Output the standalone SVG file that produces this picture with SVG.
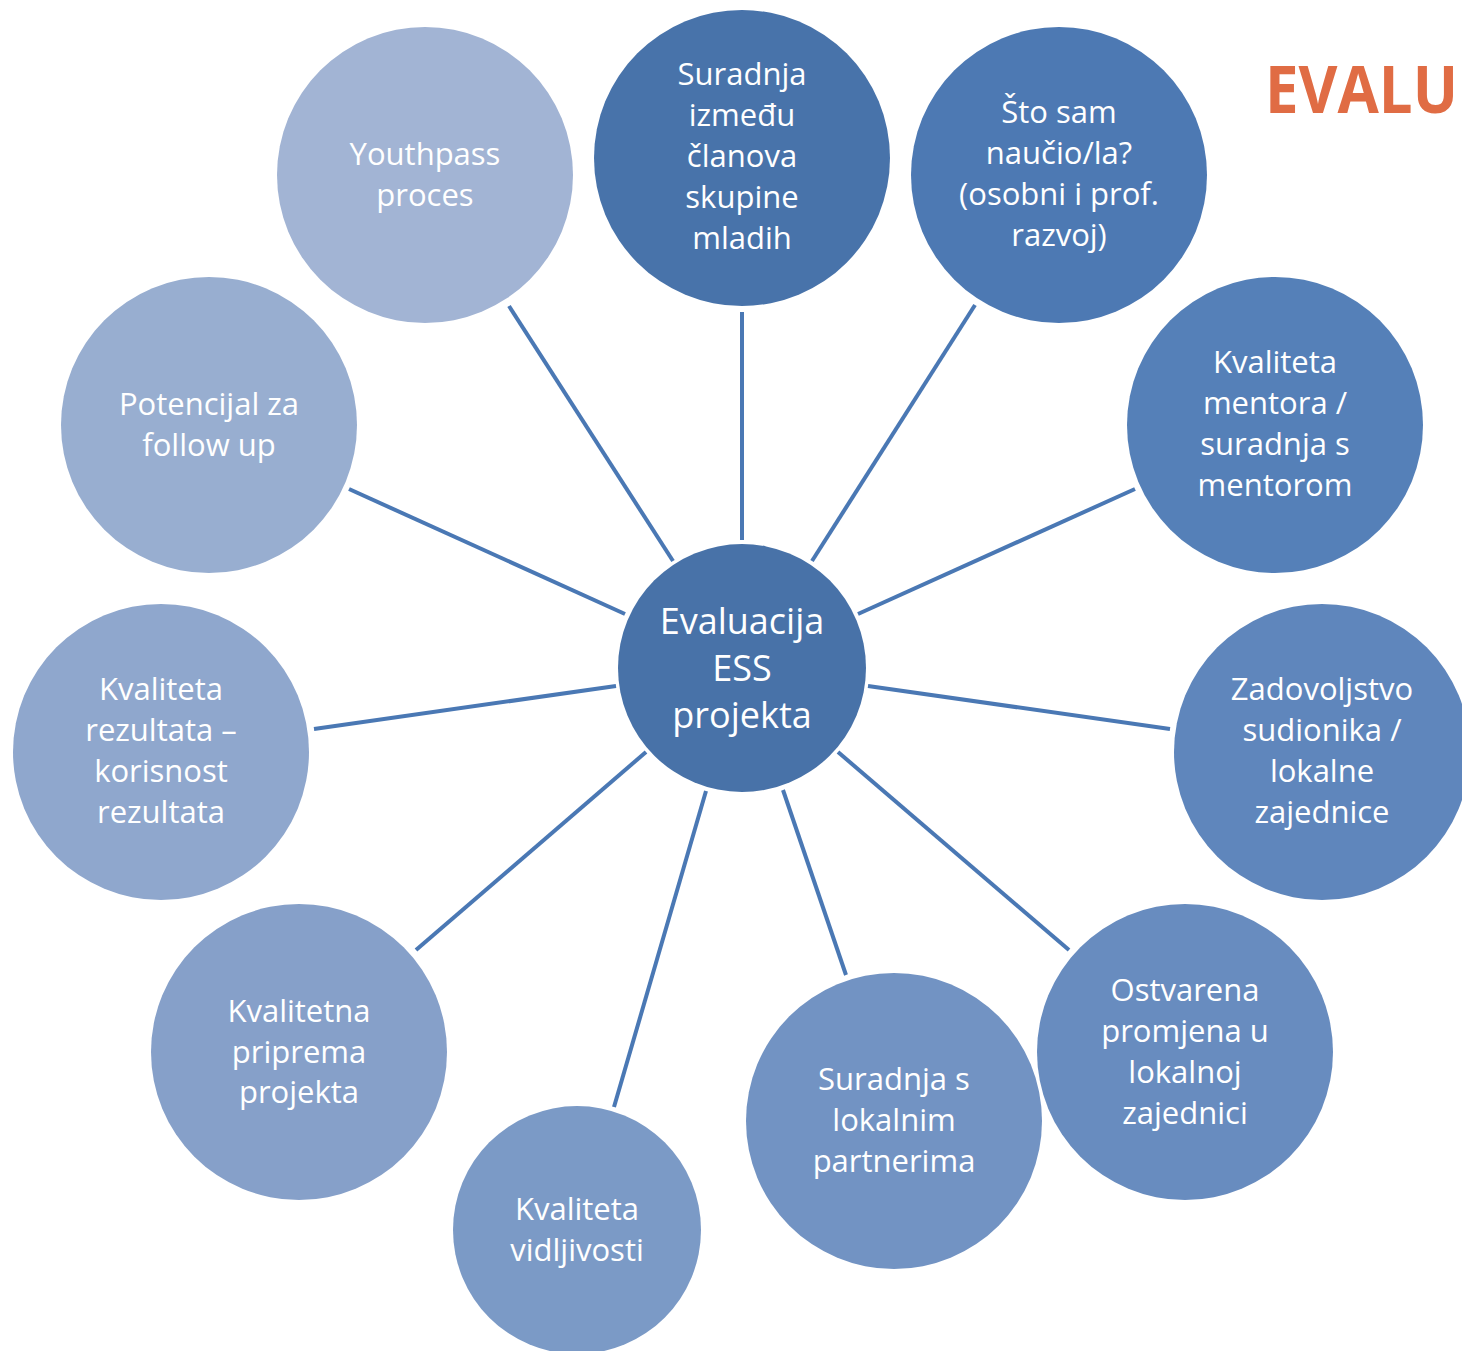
<svg xmlns="http://www.w3.org/2000/svg" width="1462" height="1351" viewBox="0 0 1462 1351">
<style>
.c text{fill:#ffffff;font-family:"Open Sans","Noto Sans",sans-serif;font-size:31px;text-anchor:middle}
#center text{font-size:36px}
#connectors line{stroke:#4a78b4;stroke-width:4}
.title{fill:#e06c44;font-family:"Open Sans","Noto Sans",sans-serif;font-weight:bold;font-size:67px}
</style>
<rect width="1462" height="1351" fill="#ffffff"/>
<text class="title" x="1265" y="113" textLength="193" lengthAdjust="spacingAndGlyphs">EVALU</text>
<g id="connectors">
<line x1="509" y1="306" x2="673" y2="561"/>
<line x1="742" y1="312" x2="742" y2="540"/>
<line x1="975" y1="305" x2="812" y2="561"/>
<line x1="1135" y1="489" x2="858" y2="614"/>
<line x1="1170" y1="729" x2="868" y2="686"/>
<line x1="1069" y1="950" x2="838" y2="752"/>
<line x1="846" y1="975" x2="783" y2="790"/>
<line x1="614" y1="1107" x2="706" y2="791"/>
<line x1="416" y1="950" x2="646" y2="752"/>
<line x1="314" y1="729" x2="616" y2="686"/>
<line x1="349" y1="489" x2="625" y2="614"/>
</g>
<g id="center" class="c">
<circle cx="742" cy="668" r="124" fill="#4872a8"/>
<text x="742" y="634">Evaluacija</text>
<text x="742" y="681">ESS</text>
<text x="742" y="728">projekta</text>
</g>
<g id="n-youthpass" class="c">
<circle cx="425" cy="175" r="148" fill="#a2b4d4"/>
<text x="425" y="165">Youthpass</text>
<text x="425" y="206">proces</text>
</g>
<g id="n-suradnja-mladih" class="c">
<circle cx="742" cy="158" r="148" fill="#4873aa"/>
<text x="742" y="85">Suradnja</text>
<text x="742" y="126">između</text>
<text x="742" y="167">članova</text>
<text x="742" y="208">skupine</text>
<text x="742" y="249">mladih</text>
</g>
<g id="n-naucio" class="c">
<circle cx="1059" cy="175" r="148" fill="#4d79b3"/>
<text x="1059" y="123">Što sam</text>
<text x="1059" y="164">naučio/la?</text>
<text x="1059" y="205">(osobni i prof.</text>
<text x="1059" y="246">razvoj)</text>
</g>
<g id="n-mentor" class="c">
<circle cx="1275" cy="425" r="148" fill="#5580b8"/>
<text x="1275" y="373">Kvaliteta</text>
<text x="1275" y="414">mentora /</text>
<text x="1275" y="455">suradnja s</text>
<text x="1275" y="496">mentorom</text>
</g>
<g id="n-zadovoljstvo" class="c">
<circle cx="1322" cy="752" r="148" fill="#5f86bc"/>
<text x="1322" y="700">Zadovoljstvo</text>
<text x="1322" y="741">sudionika /</text>
<text x="1322" y="782">lokalne</text>
<text x="1322" y="823">zajednice</text>
</g>
<g id="n-promjena" class="c">
<circle cx="1185" cy="1052" r="148" fill="#688cbf"/>
<text x="1185" y="1001">Ostvarena</text>
<text x="1185" y="1042">promjena u</text>
<text x="1185" y="1083">lokalnoj</text>
<text x="1185" y="1124">zajednici</text>
</g>
<g id="n-partneri" class="c">
<circle cx="894" cy="1121" r="148" fill="#7293c3"/>
<text x="894" y="1090">Suradnja s</text>
<text x="894" y="1131">lokalnim</text>
<text x="894" y="1172">partnerima</text>
</g>
<g id="n-vidljivost" class="c">
<circle cx="577" cy="1230" r="124" fill="#7b9ac6"/>
<text x="577" y="1220">Kvaliteta</text>
<text x="577" y="1261">vidljivosti</text>
</g>
<g id="n-priprema" class="c">
<circle cx="299" cy="1052" r="148" fill="#86a0c9"/>
<text x="299" y="1022">Kvalitetna</text>
<text x="299" y="1063">priprema</text>
<text x="299" y="1103">projekta</text>
</g>
<g id="n-rezultati" class="c">
<circle cx="161" cy="752" r="148" fill="#8fa7cd"/>
<text x="161" y="700">Kvaliteta</text>
<text x="161" y="741">rezultata –</text>
<text x="161" y="782">korisnost</text>
<text x="161" y="823">rezultata</text>
</g>
<g id="n-followup" class="c">
<circle cx="209" cy="425" r="148" fill="#98aed0"/>
<text x="209" y="415">Potencijal za</text>
<text x="209" y="456">follow up</text>
</g>
</svg>
